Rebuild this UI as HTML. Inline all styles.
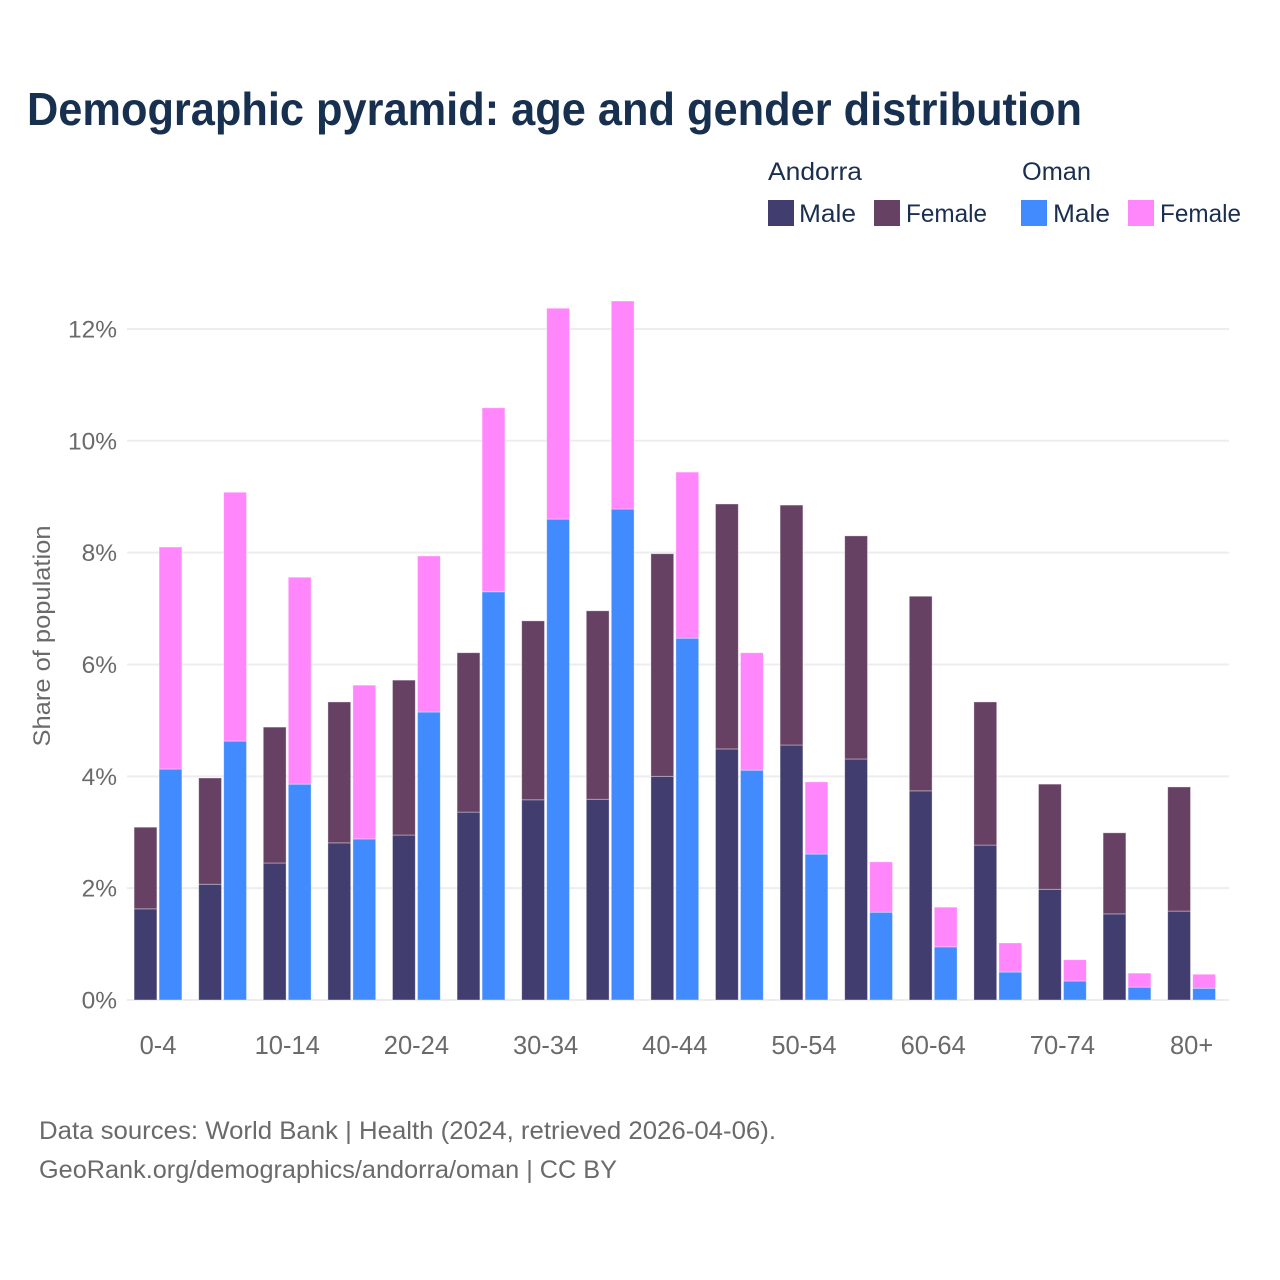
<!DOCTYPE html>
<html lang="en">
<head>
<meta charset="utf-8">
<title>Demographic pyramid: age and gender distribution</title>
<style>
html,body{margin:0;padding:0;background:#fff;}
svg{display:block;}
text{font-family:"Liberation Sans",sans-serif;}
</style>
</head>
<body>
<svg id="chart" xmlns="http://www.w3.org/2000/svg" width="1280" height="1280" viewBox="0 0 1280 1280">
<rect x="0" y="0" width="1280" height="1280" fill="#ffffff"/>
<text x="27" y="125" font-size="46" font-weight="700" fill="#17304f" textLength="1055" lengthAdjust="spacingAndGlyphs">Demographic pyramid: age and gender distribution</text>
<g font-size="25" fill="#1a2f50">
<text x="768" y="180" textLength="94" lengthAdjust="spacingAndGlyphs">Andorra</text>
<text x="1022" y="180" textLength="69" lengthAdjust="spacingAndGlyphs">Oman</text>
<rect x="768" y="200" width="26" height="26" fill="#413d6f"/>
<text x="799" y="222" textLength="57" lengthAdjust="spacingAndGlyphs">Male</text>
<rect x="874" y="200" width="26" height="26" fill="#664163"/>
<text x="906" y="222" textLength="81" lengthAdjust="spacingAndGlyphs">Female</text>
<rect x="1021" y="200" width="26" height="26" fill="#418bff"/>
<text x="1053" y="222" textLength="57" lengthAdjust="spacingAndGlyphs">Male</text>
<rect x="1128" y="200" width="26" height="26" fill="#ff86fb"/>
<text x="1160" y="222" textLength="81" lengthAdjust="spacingAndGlyphs">Female</text>
</g>
<g id="grid"></g>
<g id="bars"></g>
<g id="yticks"></g>
<g id="xticks"></g>
<text transform="translate(50,636) rotate(-90)" text-anchor="middle" font-size="24" fill="#6a6a6a" textLength="221" lengthAdjust="spacingAndGlyphs">Share of population</text>
<text x="39" y="1139" font-size="25" fill="#6a6a6a" textLength="737" lengthAdjust="spacingAndGlyphs">Data sources: World Bank | Health (2024, retrieved 2026-04-06).</text>
<text x="39" y="1178" font-size="25" fill="#6a6a6a" textLength="578" lengthAdjust="spacingAndGlyphs">GeoRank.org/demographics/andorra/oman | CC BY</text>
</svg>
<script>
const categories = ["0-4","5-9","10-14","15-19","20-24","25-29","30-34","35-39","40-44","45-49","50-54","55-59","60-64","65-69","70-74","75-79","80+"];
const andorraMale = [1.63,2.07,2.45,2.81,2.95,3.36,3.58,3.59,4.00,4.49,4.56,4.31,3.74,2.77,1.98,1.54,1.59];
const andorraFemale = [1.46,1.90,2.43,2.52,2.77,2.85,3.20,3.37,3.98,4.38,4.29,3.99,3.48,2.56,1.88,1.45,2.22];
const omanMale = [4.13,4.63,3.86,2.88,5.15,7.30,8.60,8.78,6.47,4.11,2.61,1.57,0.95,0.50,0.34,0.23,0.21];
const omanFemale = [3.97,4.45,3.70,2.75,2.79,3.29,3.77,3.72,2.97,2.10,1.29,0.90,0.71,0.52,0.38,0.25,0.25];
const yTickValues = [0,2,4,6,8,10,12];
const xTickLabels = ["0-4","10-14","20-24","30-34","40-44","50-54","60-64","70-74","80+"];

const SVG_NS = "http://www.w3.org/2000/svg";
const yScale = v => 1000 - v * 55.92;
const xCenter = i => 158 + i * 64.6;
const barW = 22.8;
const gap = 1.1;

function makeEl(tag, attrs, parent) {
  const el = document.createElementNS(SVG_NS, tag);
  for (const k in attrs) el.setAttribute(k, attrs[k]);
  parent.appendChild(el);
  return el;
}

const grid = document.getElementById("grid");
const yticks = document.getElementById("yticks");
yTickValues.forEach(v => {
  const line = makeEl("line", {x1:127, x2:1229, y1:yScale(v), y2:yScale(v), stroke:"#ededef", "stroke-width":2}, grid);
  
  
  const t = makeEl("text", {x:117, y:yScale(v)+8.5, "text-anchor":"end", "font-size":24.5, fill:"#6a6a6a"}, yticks);
  
  
  t.textContent = v + "%";
});

const xticks = document.getElementById("xticks");
xTickLabels.forEach(label => {
  const i = categories.indexOf(label);
  const t = makeEl("text", {x:xCenter(i), y:1054, "text-anchor":"middle", "font-size":25.5, fill:"#6a6a6a"}, xticks);
  
  
  t.textContent = label;
});

const bars = document.getElementById("bars");
function drawBar(x, v0, v1, fill) {
  const r = makeEl("rect", {
    x: x, y: yScale(v1), width: barW, height: yScale(v0) - yScale(v1),
    fill: fill, stroke: "#ffffff", "stroke-width": 0.8, "stroke-opacity": 0.45
  }, bars);
  
  
}
categories.forEach((c, i) => {
  const left = xCenter(i) - barW - gap;
  const right = xCenter(i) + gap;
  drawBar(left, 0, andorraMale[i], "#413d6f");
  drawBar(left, andorraMale[i], andorraMale[i] + andorraFemale[i], "#664163");
  drawBar(right, 0, omanMale[i], "#418bff");
  drawBar(right, omanMale[i], omanMale[i] + omanFemale[i], "#ff86fb");
});
</script>
</body>
</html>
